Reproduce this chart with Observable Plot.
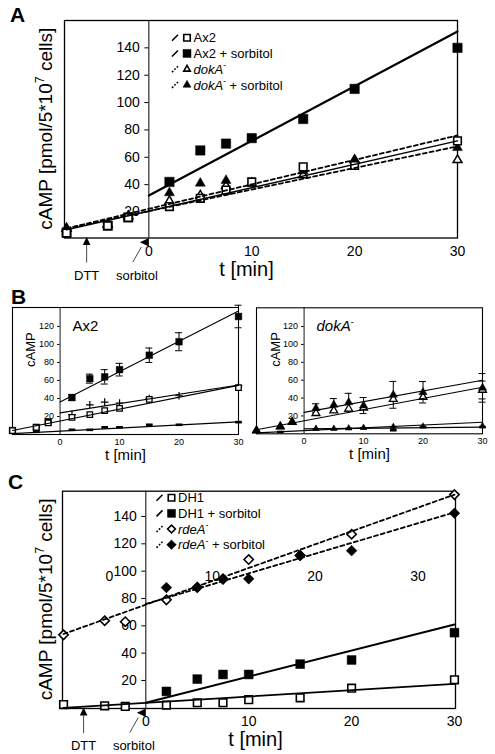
<!DOCTYPE html>
<html><head><meta charset="utf-8">
<script src="https://cdn.jsdelivr.net/npm/d3@7"></script>
<script src="https://cdn.jsdelivr.net/npm/@observablehq/plot@0.6"></script>
<style>
body{margin:0;background:#fff;}
#fig{position:relative;width:495px;height:754px;overflow:hidden;background:#fff;}
#fig svg{position:absolute;}
</style></head><body><div id="fig"></div>
<script>
const FONT = "'Liberation Sans', Arial, Helvetica, sans-serif";

// ---------- shared ----------
const timePoints = [-8, -4, -2, 2, 5, 7.5, 10, 15, 20, 30];
const xTicks = [0, 10, 20, 30];

// ---------- Panel A ----------
const ax2A      = [4.6, 10, 16, 24, 30, 36, 42, 53, 54, 72];
const ax2SorbA  = [5, 10, 16, 42, 65, 70, 74, 88, 110, 140];
const dokA_A    = [8, 11, 17, 28, 32, 39, 41, 47, 58, 58];
const dokASorbA = [8, 11, 17, 34, 41, 43, 41, 50, 58, 67];
const fitAx2A      = {t: [-8, 30], v: [7, 72]};
const fitAx2SorbA  = {t: [0, 30],  v: [32, 152]};
const fitDokA_A    = {t: [-8, 30], v: [8, 68]};
const fitDokASorbA = {t: [-8, 30], v: [8, 76]};
const yTicksA = [20, 40, 60, 80, 100, 120, 140];
const eventsA = [{label: "DTT", t: -6, kind: "up"}, {label: "sorbitol", t: 0, kind: "left"}];
const legendA = [
  {label: [{t: "Ax2"}], shape: "square", fill: "white", dash: false},
  {label: [{t: "Ax2 + sorbitol"}], shape: "square", fill: "black", dash: false},
  {label: [{t: "dokA", i: true}, {t: "-", sup: true}], shape: "triangle", fill: "white", dash: true},
  {label: [{t: "dokA", i: true}, {t: "-", sup: true}, {t: " + sorbitol"}], shape: "triangle", fill: "black", dash: true}
];

// ---------- Panel B (left: Ax2) ----------
const ax2SorbB    = [4.4, 8, 14, 41, 62, 64, 72, 88, 103, 131];
const ax2SorbErrB = [0, 0, 0, 3, 5, 8, 7, 8, 10, 12.5];
const ax2B        = [4.4, 8, 13, 19, 22, 26.5, 29, 39, null, 52];
const ax2PlusB    = [null, null, null, 22, 33, 36, 35, 40, 43, 54];
const ax2DashB    = [null, 3, null, 5.2, 5.2, 8, 8, 10.8, 10.8, 13.7];
const fitAx2SorbB = {t: [0, 30],  v: [36, 137]};
const fitAx2B     = {t: [-8, 30], v: [4.5, 54.5]};
const fitAx2PlusB = {t: [0, 30],  v: [24, 55]};
const fitAx2DashB = {t: [-8, 30], v: [1, 14]};
// ---------- Panel B (right: dokA-) ----------
const dokSorbB    = [3.7, 8, 13, 28.6, 32.4, 35.3, 31.6, 43.6, 46.5, 51.4];
const dokSorbErrB = [0, 0, 0, 5, 7, 10, 9, 15, 12, 16];
const dokB        = [3.7, 8, 13, 23, 26, 28, 29, 38.7, 41, 49];
const dokErrB     = [0, 0, 0, 0, 0, 0, 0, 0, 0, 10];
const dokSmallB   = [null, null, null, 6, 6, 6.5, 7, 8, 8.5, 9];
const dokDashB    = [null, 2, null, 5, 5, 5.5, 6, 4, 7.5, 7.5];
const fitDokSorbB  = {t: [0, 30],  v: [24, 60]};
const fitDokB      = {t: [-8, 30], v: [4.5, 52]};
const fitDokSmallB = {t: [-8, 30], v: [1, 13]};
const fitDokDashB  = {t: [0, 30],  v: [5.5, 7.5]};
const yTicksB = [20, 40, 60, 80, 100, 120];

// ---------- Panel C ----------
const dh1C      = [2.4, 1.5, 1, 2, 3.7, 3.7, 6, 7.3, 14.4, 20.5];
const dh1SorbC  = [null, null, null, 12, 21, 24.4, 24.4, 32, 35, 55];
const rdeAC     = [53.4, 63.7, 63, 79, 88, 94.4, 108.5, 111.5, 127, 156];
const rdeASorbC = [null, null, null, 88, 88.3, 94, 94.4, 111.5, 115, 142.4];
const fitDh1C      = {t: [-8, 30], v: [0, 17.5]};
const fitDh1SorbC  = {t: [0, 30],  v: [3.7, 61]};
const fitRdeAC     = {t: [-8, 30], v: [54, 156]};
const fitRdeASorbC = {t: [0, 30],  v: [76, 143]};
const yTicksC = [20, 40, 60, 80, 100, 120, 140];
const strayTicksC = [0, 10, 20, 30];
const strayLevelC = 96;
const eventsC = eventsA;
const legendC = [
  {label: [{t: "DH1"}], shape: "square", fill: "white", dash: false},
  {label: [{t: "DH1 + sorbitol"}], shape: "square", fill: "black", dash: false},
  {label: [{t: "rdeA", i: true}, {t: "-", sup: true}], shape: "diamond", fill: "white", dash: true},
  {label: [{t: "rdeA", i: true}, {t: "-", sup: true}, {t: " + sorbitol"}], shape: "diamond", fill: "black", dash: true}
];
const yLabelParts = [{t: "cAMP [pmol/5*10"}, {t: "7", sup: true}, {t: " cells]"}];

// ---------- helpers ----------
const rec = (t, v, e) => t.map((x, i) => ({t: x, v: v[i], e: e ? e[i] : 0})).filter(d => d.v != null);
const fitRec = f => f.t.map((x, i) => ({t: x, v: f.v[i]}));
const dashSymbol = {draw(ctx, size) { const w = Math.sqrt(size) * 0.95, h = 1.3;
  ctx.moveTo(-w, -h); ctx.lineTo(w, -h); ctx.lineTo(w, h); ctx.lineTo(-w, h); ctx.closePath(); }};

function dotMark(t, v, o) { return Plot.dot(rec(t, v), {x: "t", y: "v", stroke: "black", ...o}); }
function fitMark(f, o) { return Plot.line(fitRec(f), {x: "t", y: "v", stroke: "black", ...o}); }
function errMarks(t, v, e, cap) {
  const rows = rec(t, v, e).filter(r => r.e > 0);
  return [
    Plot.ruleX(rows, {x: "t", y1: r => r.v - r.e, y2: r => r.v + r.e, stroke: "black", strokeWidth: 1}),
    Plot.ruleY(rows, {x1: "t", x2: "t", y: r => r.v + r.e, insetLeft: -cap, insetRight: -cap, stroke: "black", strokeWidth: 1}),
    Plot.ruleY(rows, {x1: "t", x2: "t", y: r => r.v - r.e, insetLeft: -cap, insetRight: -cap, stroke: "black", strokeWidth: 1})
  ];
}
function yAxisMarks(ticks, fontSize, gap, tickLen) {
  const m = [Plot.text(ticks, {x: () => 0, y: d => d, text: d => String(d), textAnchor: "end", dx: -gap, fontSize, fill: "black"})];
  if (tickLen) m.push(Plot.ruleY(ticks, {y: d => d, x1: () => 0, x2: () => 0, insetLeft: -tickLen, stroke: "black", strokeWidth: 1}));
  return m;
}
function xAxisMarks(ticks, fontSize, offset) {
  return Plot.text(ticks, {x: d => d, frameAnchor: "bottom", dy: offset, text: d => String(d), fontSize, fill: "black"});
}
function richText(g, x, y, parts, o = {}) {
  const size = o.size || 13;
  const t = g.append("text")
    .attr("transform", `translate(${x},${y})` + (o.rotate ? ` rotate(${o.rotate})` : ""))
    .attr("y", 0.35 * size).attr("font-size", size).attr("font-family", FONT)
    .attr("font-weight", o.weight || "normal").attr("text-anchor", o.anchor || "start").attr("fill", "black");
  let lift = 0;
  parts.forEach(p => {
    const ts = t.append("tspan").text(p.t);
    if (p.i) ts.attr("font-style", "italic");
    if (p.sup) { ts.attr("font-size", size * 0.65).attr("dy", -size * 0.42); lift = size * 0.42; }
    else if (lift) { ts.attr("dy", lift); lift = 0; }
  });
  return t;
}
function shapePath(shape, s) {
  if (shape === "square") return `M${-s/2},${-s/2}h${s}v${s}h${-s}Z`;
  if (shape === "triangle") { const h = s * 0.87; return `M0,${-h*2/3}L${s/2},${h/3}L${-s/2},${h/3}Z`; }
  const r = s * 0.6; return `M0,${-r}L${r},0L0,${r}L${-r},0Z`;
}
function drawLegend(g, entries, x0, y0, dy) {
  entries.forEach((e, i) => {
    const y = y0 + i * dy;
    g.append("line").attr("x1", x0).attr("y1", y + 3).attr("x2", x0 + 6).attr("y2", y - 3)
      .attr("stroke", "black").attr("stroke-width", 1.6).attr("stroke-dasharray", e.dash ? "1.8,1.6" : null);
    g.append("path").attr("transform", `translate(${x0 + 15},${y})`)
      .attr("d", shapePath(e.shape, e.fill === "white" ? 6.5 : 8))
      .attr("fill", e.fill).attr("stroke", "black").attr("stroke-width", e.fill === "white" ? 1.6 : 0.5);
    richText(g, x0 + 21.5, y, e.label, {size: 13});
  });
}
function drawEvents(g, events, scales, dims) {
  const yb = dims.height - dims.marginBottom;
  events.forEach(e => {
    const x = scales.x(e.t);
    if (e.kind === "up") {
      g.append("path").attr("d", `M${x},${yb - 0.5}L${x + 3.8},${yb + 7.5}L${x - 3.8},${yb + 7.5}Z`).attr("fill", "black");
      g.append("line").attr("x1", x).attr("x2", x).attr("y1", yb + 7.5).attr("y2", yb + 25).attr("stroke", "#333").attr("stroke-width", 0.9);
      richText(g, x, yb + 37.5, [{t: e.label}], {size: 13, anchor: "middle"});
    } else {
      g.append("path").attr("d", `M${x + 0.5},${yb + 0.5}L${x + 0.5},${yb + 9}L${x - 8.5},${yb + 4.8}Z`).attr("fill", "black");
      g.append("line").attr("x1", x - 7).attr("y1", yb + 9.5).attr("x2", x - 15.5).attr("y2", yb + 24.5).attr("stroke", "#333").attr("stroke-width", 0.9);
      richText(g, x - 11.5, yb + 37.5, [{t: e.label}], {size: 13, anchor: "middle"});
    }
  });
}
const custom = fn => (index, scales, values, dims) => {
  const g = d3.create("svg:g");
  fn(g, scales, dims);
  return g.node();
};
const baseStyle = {background: "transparent", fontFamily: FONT, overflow: "visible", color: "black"};
function place(svg, left, top) {
  svg.style.position = "absolute"; svg.style.left = left + "px"; svg.style.top = top + "px";
  svg.style.maxWidth = "none";
  document.getElementById("fig").appendChild(svg);
}

// ---------- Panel A ----------
const plotA = Plot.plot({
  width: 495, height: 290,
  marginLeft: 64, marginRight: 38, marginTop: 20, marginBottom: 52.5,
  x: {domain: [-8.2, 30], axis: null},
  y: {domain: [1, 160], axis: null},
  style: baseStyle,
  marks: [
    Plot.frame({stroke: "black", strokeWidth: 1.3}),
    Plot.ruleX([0], {stroke: "black", strokeWidth: 1}),
    ...yAxisMarks(yTicksA, 14, 9, 4),
    xAxisMarks(xTicks, 14, 18),
    dotMark(timePoints, dokA_A, {symbol: "triangle", r: 3.3, fill: "white", strokeWidth: 1.5}),
    dotMark(timePoints, dokASorbA, {symbol: "triangle", r: 3.7, fill: "black", strokeWidth: 0.5}),
    dotMark(timePoints, ax2SorbA, {symbol: "square", r: 5.3, fill: "black", strokeWidth: 0.5}),
    dotMark(timePoints, ax2A, {symbol: "square", r: 4.3, fill: "white", strokeWidth: 1.6}),
    fitMark(fitDokA_A, {strokeWidth: 1.8, strokeDasharray: "4,3"}),
    fitMark(fitDokASorbA, {strokeWidth: 1.8, strokeDasharray: "4,3"}),
    fitMark(fitAx2A, {strokeWidth: 1.5}),
    fitMark(fitAx2SorbA, {strokeWidth: 2.2}),
    Plot.text(["t [min]"], {frameAnchor: "bottom", dy: 38, dx: -14.5, fontSize: 20, fill: "black"}),
    custom((g, s, d) => {
      richText(g, 45, (d.marginTop + d.height - d.marginBottom) / 2, yLabelParts, {size: 19, rotate: -90, anchor: "middle"});
      drawLegend(g, legendA, 172, 37.7, 15.75);
      drawEvents(g, eventsA, s, d);
      richText(g, 10, 14.5, [{t: "A"}], {size: 21, weight: "bold"});
    })
  ]
});
place(plotA, 0, 0);

// ---------- Panel B left ----------
const plotBL = Plot.plot({
  width: 248, height: 180,
  marginLeft: 12, marginRight: 10, marginTop: 17, marginBottom: 36,
  x: {domain: [-8, 30], axis: null},
  y: {domain: [0, 141], axis: null},
  style: baseStyle,
  marks: [
    Plot.frame({stroke: "black", strokeWidth: 1.1}),
    Plot.ruleX([0], {stroke: "black", strokeWidth: 0.9}),
    ...yAxisMarks(yTicksB, 9, 6, 2.5),
    xAxisMarks(xTicks, 9, 10.5),
    ...errMarks(timePoints, ax2SorbB, ax2SorbErrB, 3.5),
    dotMark(timePoints, ax2DashB, {symbol: dashSymbol, r: 2, fill: "black", stroke: "none"}),
    dotMark(timePoints, ax2PlusB, {symbol: "plus", r: 2.6, fill: "none", strokeWidth: 1.2}),
    dotMark(timePoints, ax2SorbB, {symbol: "square", r: 3.8, fill: "black", strokeWidth: 0.4}),
    dotMark(timePoints, ax2B, {symbol: "square", r: 3.1, fill: "white", strokeWidth: 1.3}),
    fitMark(fitAx2SorbB, {strokeWidth: 1.1}),
    fitMark(fitAx2B, {strokeWidth: 1.1}),
    fitMark(fitAx2PlusB, {strokeWidth: 1.1}),
    fitMark(fitAx2DashB, {strokeWidth: 1.1}),
    Plot.text(["t [min]"], {frameAnchor: "bottom", dy: 25.5, fontSize: 15, fill: "black"}),
    Plot.text(["cAMP"], {frameAnchor: "left", dx: 18.5, dy: -4, rotate: -90, fontSize: 13, fill: "black"}),
    custom((g, s, d) => {
      richText(g, 72.5, 36, [{t: "Ax2"}], {size: 15});
      richText(g, 11, 6.5, [{t: "B"}], {size: 21, weight: "bold"});
    })
  ]
});
place(plotBL, 0, 290);

// ---------- Panel B right ----------
const plotBR = Plot.plot({
  width: 250, height: 180,
  marginLeft: 11, marginRight: 13, marginTop: 17.3, marginBottom: 36.7,
  x: {domain: [-8, 30], axis: null},
  y: {domain: [0, 141], axis: null},
  style: baseStyle,
  marks: [
    Plot.frame({stroke: "black", strokeWidth: 1.1}),
    Plot.ruleX([0], {stroke: "black", strokeWidth: 0.9}),
    ...yAxisMarks(yTicksB, 9, 6, 2.5),
    xAxisMarks(xTicks, 9, 10.5),
    ...errMarks(timePoints, dokSorbB, dokSorbErrB, 3.5),
    ...errMarks(timePoints, dokB, dokErrB, 3.5),
    dotMark(timePoints, dokDashB, {symbol: dashSymbol, r: 2, fill: "black", stroke: "none"}),
    dotMark(timePoints, dokSmallB, {symbol: "triangle", r: 2.3, fill: "black", strokeWidth: 0.4}),
    dotMark(timePoints, dokB, {symbol: "triangle", r: 2.9, fill: "white", strokeWidth: 1.3}),
    dotMark(timePoints, dokSorbB, {symbol: "triangle", r: 3.1, fill: "black", strokeWidth: 0.4}),
    fitMark(fitDokSorbB, {strokeWidth: 1.1}),
    fitMark(fitDokB, {strokeWidth: 1.1}),
    fitMark(fitDokSmallB, {strokeWidth: 1.1}),
    fitMark(fitDokDashB, {strokeWidth: 1.1}),
    Plot.text(["t [min]"], {frameAnchor: "bottom", dy: 25.5, fontSize: 15, fill: "black"}),
    Plot.text(["cAMP"], {frameAnchor: "left", dx: 19.5, dy: -4, rotate: -90, fontSize: 13, fill: "black"}),
    custom((g, s, d) => {
      richText(g, 71.5, 36, [{t: "dokA", i: true}, {t: "-", sup: true}], {size: 15});
    })
  ]
});
place(plotBR, 245, 290);

// ---------- Panel C ----------
const plotC = Plot.plot({
  width: 495, height: 284,
  marginLeft: 62, marginRight: 40, marginTop: 20.7, marginBottom: 46,
  x: {domain: [-8.1, 30.1], axis: null},
  y: {domain: [-0.5, 158.5], axis: null},
  style: baseStyle,
  marks: [
    Plot.frame({stroke: "black", strokeWidth: 1.3}),
    Plot.ruleX([0], {stroke: "black", strokeWidth: 1}),
    ...yAxisMarks(yTicksC, 14, 9, 4),
    xAxisMarks(xTicks, 14, 17.5),
    Plot.text(strayTicksC, {x: d => d, y: () => strayLevelC, dx: -36.5, text: d => String(d), fontSize: 14, fill: "black"}),
    dotMark(timePoints, rdeAC, {symbol: "diamond2", r: 4.2, fill: "white", strokeWidth: 1.6}),
    dotMark(timePoints, rdeASorbC, {symbol: "diamond2", r: 4.8, fill: "black", strokeWidth: 0.5}),
    dotMark(timePoints, dh1SorbC, {symbol: "square", r: 5, fill: "black", strokeWidth: 0.5}),
    dotMark(timePoints, dh1C, {symbol: "square", r: 4.3, fill: "white", strokeWidth: 1.6}),
    fitMark(fitRdeAC, {strokeWidth: 1.8, strokeDasharray: "4,3"}),
    fitMark(fitRdeASorbC, {strokeWidth: 1.8, strokeDasharray: "4,3"}),
    fitMark(fitDh1C, {strokeWidth: 1.8}),
    fitMark(fitDh1SorbC, {strokeWidth: 2}),
    Plot.text(["t [min]"], {frameAnchor: "bottom", dy: 37.5, dx: -3.5, fontSize: 20, fill: "black"}),
    custom((g, s, d) => {
      richText(g, 45, (d.marginTop + d.height - d.marginBottom) / 2, yLabelParts, {size: 19, rotate: -90, anchor: "middle"});
      drawLegend(g, legendC, 156.5, 27.7, 15.67);
      drawEvents(g, eventsC, s, d);
      richText(g, 8, 11.5, [{t: "C"}], {size: 21, weight: "bold"});
    })
  ]
});
place(plotC, 0, 470);
</script></body></html>
